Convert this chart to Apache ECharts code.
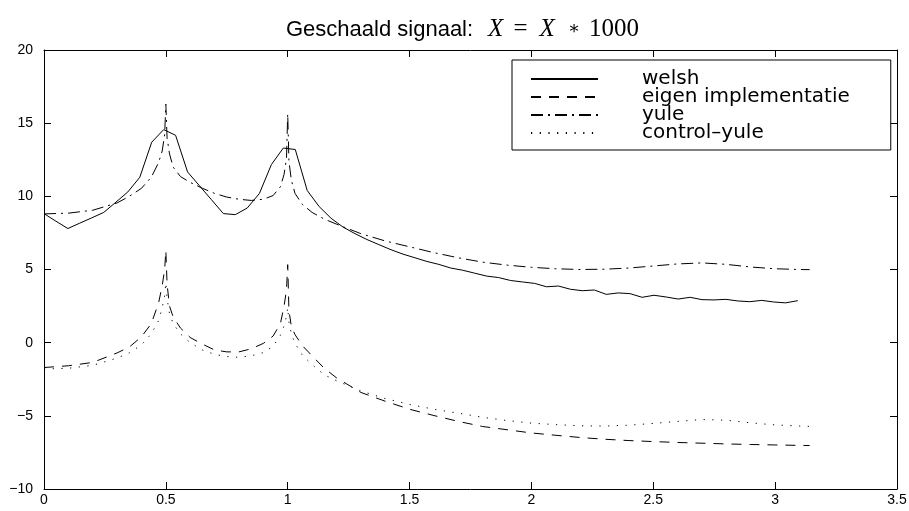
<!DOCTYPE html>
<html>
<head>
<meta charset="utf-8">
<script src="https://cdn.jsdelivr.net/npm/echarts@6/dist/echarts.min.js"></script>
<style>
  html, body { margin: 0; padding: 0; background: #fff; }
  #chart { width: 909px; height: 511px; }
</style>
</head>
<body>
<div id="chart"></div>
<script>
// Welch periodogram: 64 bins from 0 to 63*pi/64
const welshFreq = [0, 0.049, 0.098, 0.147, 0.196, 0.245, 0.295, 0.344, 0.393, 0.442,
  0.491, 0.540, 0.589, 0.638, 0.687, 0.736, 0.785, 0.834, 0.884, 0.933,
  0.982, 1.031, 1.080, 1.129, 1.178, 1.227, 1.276, 1.325, 1.374, 1.424,
  1.473, 1.522, 1.571, 1.620, 1.669, 1.718, 1.767, 1.816, 1.865, 1.914,
  1.963, 2.013, 2.062, 2.111, 2.160, 2.209, 2.258, 2.307, 2.356, 2.405,
  2.454, 2.503, 2.553, 2.602, 2.651, 2.700, 2.749, 2.798, 2.847, 2.896,
  2.945, 2.994, 3.043, 3.093];
const welshValues = [8.82, 8.3, 7.8, 8.17, 8.53, 8.9, 9.6, 10.3, 11.3, 13.7,
  14.56, 14.17, 11.67, 10.72, 9.77, 8.82, 8.75, 9.2, 10.2, 12.17,
  13.3, 13.2, 10.4, 9.3, 8.5, 7.9, 7.45, 7.05, 6.7, 6.35,
  6.05, 5.8, 5.55, 5.35, 5.1, 4.95, 4.75, 4.55, 4.45, 4.25,
  4.15, 4.05, 3.82, 3.87, 3.65, 3.55, 3.6, 3.3, 3.4, 3.35,
  3.1, 3.24, 3.12, 2.98, 3.1, 2.94, 2.92, 2.96, 2.85, 2.8,
  2.89, 2.78, 2.72, 2.87];

// Frequency grid of the parametric (AR) spectra, dense around the two peaks
const arFreq = [0, 0.1, 0.2, 0.3, 0.35, 0.4, 0.44, 0.47, 0.485, 0.495,
  0.5, 0.505, 0.515, 0.53, 0.56, 0.6, 0.65, 0.7, 0.75, 0.8,
  0.85, 0.9, 0.94, 0.97, 0.985, 0.995, 1.0, 1.005, 1.015, 1.03,
  1.06, 1.1, 1.15, 1.2, 1.3, 1.4, 1.5, 1.6, 1.7, 1.8,
  1.9, 2.0, 2.1, 2.2, 2.3, 2.4, 2.5, 2.6, 2.7, 2.8,
  2.9, 3.0, 3.1, 3.1416];
const yuleValues = [8.8, 8.85, 9.05, 9.55, 10.0, 10.55, 11.3, 12.3, 13.1, 14.2,
  16.3, 14.0, 12.9, 12.0, 11.35, 10.95, 10.55, 10.2, 9.95, 9.8,
  9.72, 9.8, 10.05, 10.65, 11.5, 12.6, 15.65, 12.4, 11.1, 10.2,
  9.45, 8.9, 8.45, 8.1, 7.45, 6.95, 6.55, 6.15, 5.8, 5.5,
  5.3, 5.15, 5.05, 5.0, 5.02, 5.1, 5.24, 5.38, 5.45, 5.35,
  5.17, 5.05, 5.0, 4.99];
const eigenValues = [-1.7, -1.58, -1.35, -0.7, -0.3, 0.4, 1.3, 2.7, 3.9, 5.0,
  6.3, 4.0, 2.5, 1.75, 1.0, 0.35, -0.1, -0.5, -0.63, -0.63,
  -0.42, -0.05, 0.45, 1.3, 2.5, 3.6, 5.33, 2.2, 1.1, 0.55,
  -0.2, -0.9, -1.75, -2.4, -3.4, -4.0, -4.55, -4.98, -5.38, -5.73,
  -5.95, -6.17, -6.33, -6.48, -6.6, -6.69, -6.76, -6.82, -6.87, -6.92,
  -6.96, -6.99, -7.02, -7.03];
const controlYuleValues = [-1.8, -1.75, -1.55, -1.05, -0.7, -0.15, 0.6, 1.5, 2.4, 3.2,
  4.1, 3.0, 2.0, 1.3, 0.6, 0.0, -0.5, -0.8, -0.95, -1.0,
  -0.9, -0.68, -0.25, 0.5, 1.15, 1.8, 2.4, 1.4, 0.6, -0.05,
  -0.85, -1.5, -2.2, -2.6, -3.3, -3.82, -4.22, -4.55, -4.82, -5.1,
  -5.32, -5.5, -5.6, -5.68, -5.7, -5.64, -5.52, -5.38, -5.25, -5.3,
  -5.48, -5.62, -5.7, -5.72];

const seriesNames = ['welsh', 'eigen implementatie', 'yule', 'control\u2013yule'];

const xRange = { min: 0, max: 3.5, interval: 0.5 };
const yRange = { min: -10, max: 20, interval: 5 };

const pairs = (xs, ys) => xs.map((x, i) => [x, ys[i]]);
const minus = v => (v < 0 ? '\u2212' + (-v) : String(v));

const labelFont = { color: '#000', fontSize: 14, fontFamily: 'Liberation Sans' };
const boxLine = { show: true, onZero: false, lineStyle: { color: '#000', width: 1 } };
const innerTick = { show: true, inside: true, length: 7, lineStyle: { color: '#000', width: 1 } };

function lineSeries(name, xs, ys, dash) {
  return {
    name: name,
    type: 'line',
    xAxisIndex: 0,
    yAxisIndex: 0,
    data: pairs(xs, ys),
    symbol: 'none',
    showSymbol: false,
    smooth: false,
    lineStyle: { color: '#000', width: 1, type: dash, cap: 'butt' },
    itemStyle: { color: '#000' },
    emphasis: { disabled: true },
    z: 3
  };
}

const mathFont = { fontFamily: 'Liberation Serif', fontWeight: 'normal', fontSize: 25, color: '#000' };

const chart = echarts.init(document.getElementById('chart'), null, { renderer: 'canvas' });
chart.setOption({
  backgroundColor: '#fff',
  animation: false,
  title: {
    left: 281,
    top: 12,
    text: '{s|Geschaald signaal:}{i|X}{eq|=}{i|X}{op|\u2217}{r|1000}',
    textStyle: {
      fontWeight: 'normal',
      rich: {
        s: { fontFamily: 'Liberation Sans', fontSize: 22, fontWeight: 'normal', color: '#000', padding: [0, 15, 0, 0] },
        i: Object.assign({ fontStyle: 'italic' }, mathFont),
        eq: Object.assign({ padding: [0, 12, 0, 10] }, mathFont),
        op: Object.assign({ padding: [0, 9, 0, 13] }, mathFont, { fontFamily: 'DejaVu Serif', fontSize: 18 }),
        r: mathFont
      }
    }
  },
  legend: {
    orient: 'vertical',
    left: 512,
    top: 60,
    itemWidth: 67,
    itemHeight: 14,
    itemGap: -2,
    padding: [9, 41, 7, 18],
    borderColor: '#000',
    borderWidth: 1,
    backgroundColor: '#fff',
    selectedMode: false,
    itemStyle: { opacity: 0 },
    textStyle: { fontFamily: 'DejaVu Sans', fontSize: 20, lineHeight: 14, color: '#000', padding: [0, 0, 0, 39] },
    data: seriesNames
  },
  grid: { left: 44, right: 12, top: 50, bottom: 22, containLabel: false, outerBoundsMode: 'none' },
  xAxis: [
    Object.assign({ type: 'value', position: 'bottom', axisLine: boxLine, axisTick: innerTick,
      axisLabel: Object.assign({ margin: 4, formatter: v => String(v) }, labelFont),
      splitLine: { show: false } }, xRange),
    Object.assign({ type: 'value', position: 'top', axisLine: boxLine, axisTick: innerTick,
      axisLabel: { show: false }, splitLine: { show: false } }, xRange)
  ],
  yAxis: [
    Object.assign({ type: 'value', position: 'left', axisLine: boxLine, axisTick: innerTick,
      axisLabel: Object.assign({ margin: 11, formatter: minus }, labelFont),
      splitLine: { show: false } }, yRange),
    Object.assign({ type: 'value', position: 'right', axisLine: boxLine, axisTick: innerTick,
      axisLabel: { show: false }, splitLine: { show: false } }, yRange)
  ],
  series: [
    lineSeries(seriesNames[0], welshFreq, welshValues, 'solid'),
    lineSeries(seriesNames[1], arFreq, eigenValues, [10, 8]),
    lineSeries(seriesNames[2], arFreq, yuleValues, [12, 5, 2, 5]),
    lineSeries(seriesNames[3], arFreq, controlYuleValues, [1.2, 7.5])
  ]
});
</script>
</body>
</html>
